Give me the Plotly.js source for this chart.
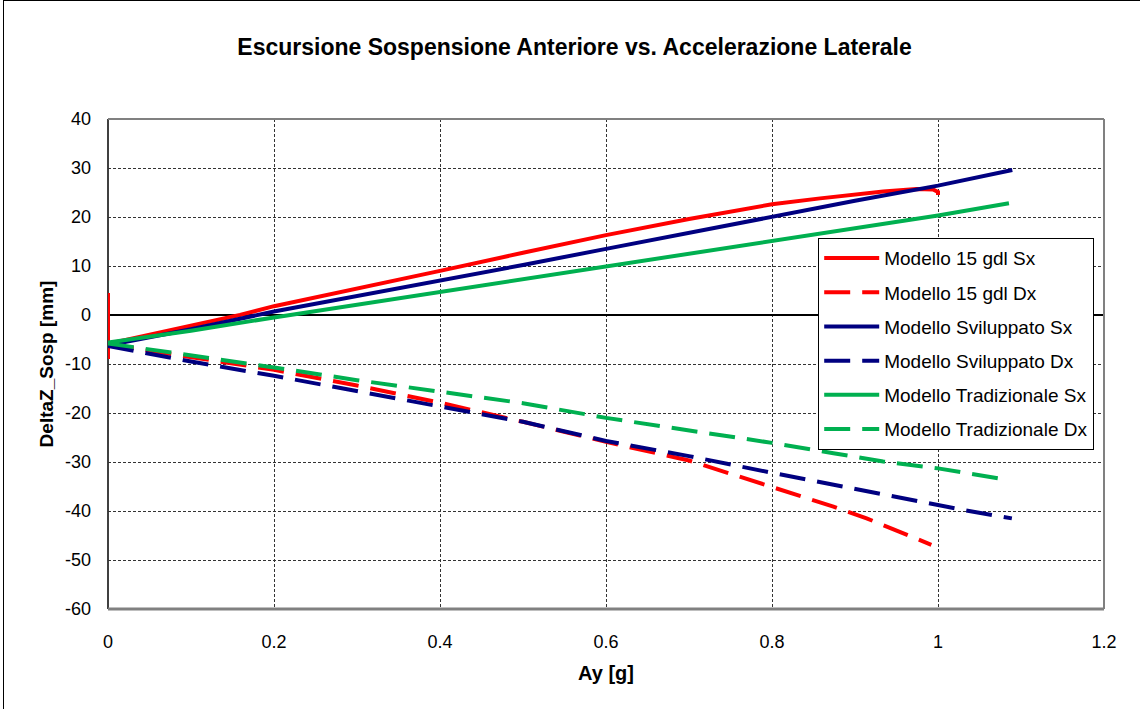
<!DOCTYPE html>
<html>
<head>
<meta charset="utf-8">
<script src="https://cdn.plot.ly/plotly-3.0.1.min.js"></script>
<style>
  html, body { margin: 0; padding: 0; background: #fff; }
  #frame { position: absolute; left: 3px; top: 0; width: 1160px; height: 740px; border-left: 1.5px solid #000; border-top: 1.5px solid #000; }
  #chart { position: absolute; left: 0; top: 0; width: 1140px; height: 709px; }
</style>
</head>
<body>
<div id="frame"></div>
<div id="chart"></div>
<script>
const titleText = "Escursione Sospensione Anteriore vs. Accelerazione Laterale";
const xTitle = "Ay [g]";
const yTitle = "DeltaZ_Sosp [mm]";
const seriesNames = ["Modello 15 gdl Sx", "Modello 15 gdl Dx", "Modello Sviluppato Sx", "Modello Sviluppato Dx", "Modello Tradizionale Sx", "Modello Tradizionale Dx"];

const red15SxX = [0, 0, 0, 0.002, 0.05, 0.1, 0.159, 0.2, 0.3, 0.4, 0.5, 0.6, 0.7, 0.75, 0.8, 0.858, 0.874, 0.934, 0.974, 0.994, 1.0, 1.0];
const red15SxY = [4.5, -9, -5.8, -5.8, -4.0, -2.3, 0, 1.8, 5.3, 9.0, 12.7, 16.3, 19.6, 21.2, 22.6, 23.8, 24.1, 25.2, 25.7, 25.6, 25.1, 24.5];

const red15DxX = [0, 0.1, 0.2, 0.3, 0.4, 0.5, 0.6, 0.7, 0.8, 0.846, 0.874, 0.914, 0.954, 0.992];
const red15DxY = [-6.0, -8.6, -11.2, -14.4, -17.9, -21.8, -25.9, -29.7, -35.0, -37.6, -39.1, -41.5, -44.2, -46.9];

const svilSxX = [0, 0.1, 0.2, 0.3, 0.4, 0.5, 0.6, 0.7, 0.8, 0.858, 0.9, 1.0, 1.027, 1.0895];
const svilSxY = [-6.2, -2.9, 0.7, 3.8, 6.9, 10.2, 13.5, 16.8, 20.2, 22.0, 23.3, 26.4, 27.35, 29.6];

const svilDxX = [0, 0.1, 0.2, 0.3, 0.4, 0.5, 0.6, 0.7, 0.8, 0.874, 0.934, 1.0, 1.034, 1.089];
const svilDxY = [-6.3, -9.5, -12.4, -15.6, -18.7, -21.8, -25.7, -28.8, -32.2, -34.7, -36.7, -38.9, -39.9, -41.5];

const tradSxX = [0, 0.1, 0.2, 0.3, 0.4, 0.5, 0.6, 0.7, 0.8, 0.858, 0.9, 1.0, 1.0855];
const tradSxY = [-5.6, -3.2, -0.5, 2.1, 4.6, 7.3, 10.0, 12.6, 15.2, 16.7, 17.8, 20.3, 22.8];

const tradDxX = [0, 0.1, 0.2, 0.3, 0.4, 0.5, 0.6, 0.7, 0.8, 0.874, 0.934, 1.0, 1.034, 1.0855];
const tradDxY = [-5.8, -8.2, -10.7, -13.3, -15.7, -18.0, -21.0, -23.5, -26.1, -28.2, -29.9, -31.3, -32.2, -33.7];

const xTickVals = [0, 0.2, 0.4, 0.6, 0.8, 1, 1.2];
const xTickText = ["0", "0.2", "0.4", "0.6", "0.8", "1", "1.2"];
const yTickVals = [-60, -50, -40, -30, -20, -10, 0, 10, 20, 30, 40];
const yTickText = ["-60", "-50", "-40", "-30", "-20", "-10", "0", "10", "20", "30", "40"];

const RED = "#FF0000", NAVY = "#000080", GREEN = "#00B050";
const DASH = "26px,12px";

function tr(x, y, name, color, dash, i) {
  return { x: x, y: y, name: name, type: "scatter", mode: "lines",
    legendgroup: "g" + i,
    line: { color: color, width: 4, dash: dash } };
}

const data = [
  tr(red15SxX, red15SxY, seriesNames[0], RED, "solid", 0),
  tr(red15DxX, red15DxY, seriesNames[1], RED, DASH, 1),
  tr(svilSxX, svilSxY, seriesNames[2], NAVY, "solid", 2),
  tr(svilDxX, svilDxY, seriesNames[3], NAVY, DASH, 3),
  tr(tradSxX, tradSxY, seriesNames[4], GREEN, "solid", 4),
  tr(tradDxX, tradDxY, seriesNames[5], GREEN, DASH, 5)
];

const font = "Liberation Sans, Arial, sans-serif";
const layout = {
  width: 1140, height: 709,
  margin: { l: 108, r: 36, t: 119, b: 100, pad: 0 },
  paper_bgcolor: "rgba(0,0,0,0)", plot_bgcolor: "#fff",
  font: { family: font, color: "#000", size: 18 },
  title: { text: "<b>" + titleText + "</b>", font: { family: font, size: 23, color: "#000" },
    x: 0.504, xanchor: "center", xref: "container", y: 1 - 47 / 709, yanchor: "middle", yref: "container" },
  showlegend: true,
  legend: { x: (818 - 108) / 996, y: 1 - (238 - 119) / 490, xanchor: "left", yanchor: "top",
    bgcolor: "#fff", bordercolor: "#000", borderwidth: 1.2,
    font: { family: font, size: 19, color: "#000" },
    itemwidth: 55,
    traceorder: "grouped", tracegroupgap: 6.5 },
  xaxis: {
    range: [0, 1.2], tickvals: xTickVals, ticktext: xTickText,
    showgrid: true, gridcolor: "#333", griddash: "3px,2px", gridwidth: 1,
    zeroline: false, showline: false, ticks: "", ticklabelstandoff: 20,
    tickfont: { family: font, size: 18, color: "#000" },
    title: { text: "<b>" + xTitle + "</b>", font: { family: font, size: 20, color: "#000" }, standoff: 14 },
    fixedrange: true
  },
  yaxis: {
    range: [-60, 40], tickvals: yTickVals, ticktext: yTickText,
    showgrid: true, gridcolor: "#333", griddash: "3px,2px", gridwidth: 1,
    zeroline: true, zerolinecolor: "#000", zerolinewidth: 1.5,
    showline: false, ticks: "", ticklabelstandoff: 16,
    tickfont: { family: font, size: 18, color: "#000" },
    title: { text: "<b>" + yTitle + "</b>", font: { family: font, size: 19, color: "#000" }, standoff: 6 },
    fixedrange: true
  },
  shapes: [
    { type: "line", xref: "paper", yref: "paper", x0: 0, x1: 1, y0: 1, y1: 1, line: { color: "#808080", width: 2 }, layer: "above" },
    { type: "line", xref: "paper", yref: "paper", x0: 1, x1: 1, y0: 0, y1: 1, line: { color: "#808080", width: 2 }, layer: "above" },
    { type: "line", xref: "paper", yref: "paper", x0: 0, x1: 1, y0: 0, y1: 0, line: { color: "#808080", width: 3 }, layer: "above" },
    { type: "line", xref: "paper", yref: "paper", x0: 0, x1: 0, y0: 0, y1: 1, line: { color: "#000", width: 1.5 }, layer: "below" }
  ]
};

Plotly.newPlot("chart", data, layout, { displayModeBar: false, staticPlot: true });
</script>
</body>
</html>
